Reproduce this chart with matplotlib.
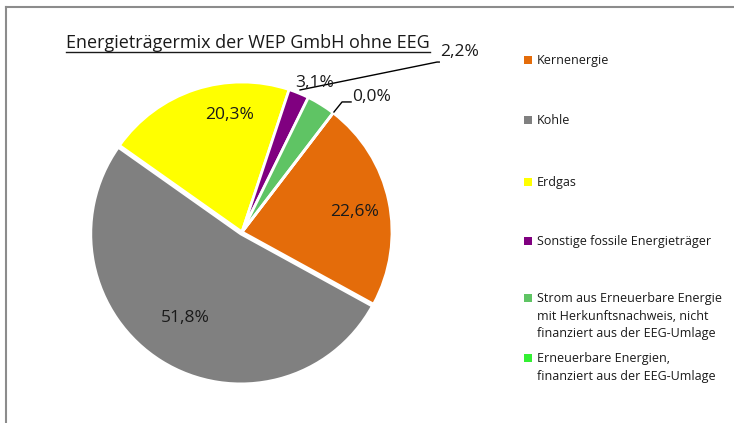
import matplotlib.pyplot as plt
from matplotlib.patches import Rectangle
from matplotlib.lines import Line2D

W, H = 734, 423

# data
categories = [
    "Kernenergie",
    "Kohle",
    "Erdgas",
    "Sonstige fossile Energieträger",
    "Strom aus Erneuerbare Energie\nmit Herkunftsnachweis, nicht\nfinanziert aus der EEG-Umlage",
    "Erneuerbare Energien,\nfinanziert aus der EEG-Umlage",
]
shares = [22.6, 51.8, 20.3, 2.2, 3.1, 0.0]
colors = ["#E46C0A", "#808080", "#FFFF00", "#800080", "#5FC464", "#33F033"]
title = "Energieträgermix der WEP GmbH ohne EEG"

plt.rcParams["font.family"] = ["Open Sans", "DejaVu Sans"]

fig = plt.figure(figsize=(W / 100, H / 100), dpi=100)

# pie axes: centre (242, 232) px, radius 150 px
cx, cy, r = 242, 232, 150
ax = fig.add_axes([(cx - r) / W, (H - cy - r) / H, 2 * r / W, 2 * r / H])

explode = [0, 0.015, 0, 0, 0, 0]
ax.pie(
    shares,
    colors=colors,
    startangle=52.6,
    counterclock=False,
    explode=explode,
    radius=1,
    wedgeprops=dict(edgecolor="white", linewidth=2),
)
ax.set_xlim(-1, 1)
ax.set_ylim(-1, 1)
ax.axis("off")

# data labels (Excel style, comma decimal)
label_pos = [(0.753, 0.133), (-0.38, -0.573), (-0.08, 0.78),
             (1.32, 1.2), (0.487, 0.993), (0.733, 0.9)]
label_ha = ["center", "center", "center", "left", "center", "left"]
for v, (x, y), ha in zip(shares, label_pos, label_ha):
    ax.text(x, y, f"{v:.1f}%".replace(".", ","), ha=ha, va="center",
            fontsize=12.5, color="#1a1a1a", clip_on=False)

# leader lines for the small slices
ax.plot([0.387, 1.30, 1.315], [0.947, 1.133, 1.133], color="black", lw=1, clip_on=False)
ax.plot([0.613, 0.667, 0.727], [0.80, 0.867, 0.867], color="black", lw=1, clip_on=False)

# title with underline
t = fig.text(248 / W, 1 - 43 / H, title, ha="center", va="center",
             fontsize=13, color="#1a1a1a")
fig.canvas.draw()
bb = t.get_window_extent()
fig.add_artist(Line2D([bb.x0 / W, bb.x1 / W], [(H - 52) / H, (H - 52) / H],
                      color="#1a1a1a", lw=1))

# legend
leg_y = [60, 120, 182, 241, 298, 358]
for lab, col, y in zip(categories, colors, leg_y):
    fig.add_artist(Rectangle((524 / W, (H - y - 4) / H), 8 / W, 8 / H,
                             facecolor=col, edgecolor="none"))
    fig.text(537 / W, (H - y + 6) / H, lab, ha="left", va="top",
             fontsize=9, color="#1a1a1a", linespacing=1.45)

# chart frame (top and left visible)
fig.add_artist(Line2D([6 / W, 1], [(H - 7) / H, (H - 7) / H], color="#8c8c8c", lw=1.5))
fig.add_artist(Line2D([6 / W, 6 / W], [0, (H - 7) / H], color="#8c8c8c", lw=1.5))

fig.savefig("out.png", dpi=100)
